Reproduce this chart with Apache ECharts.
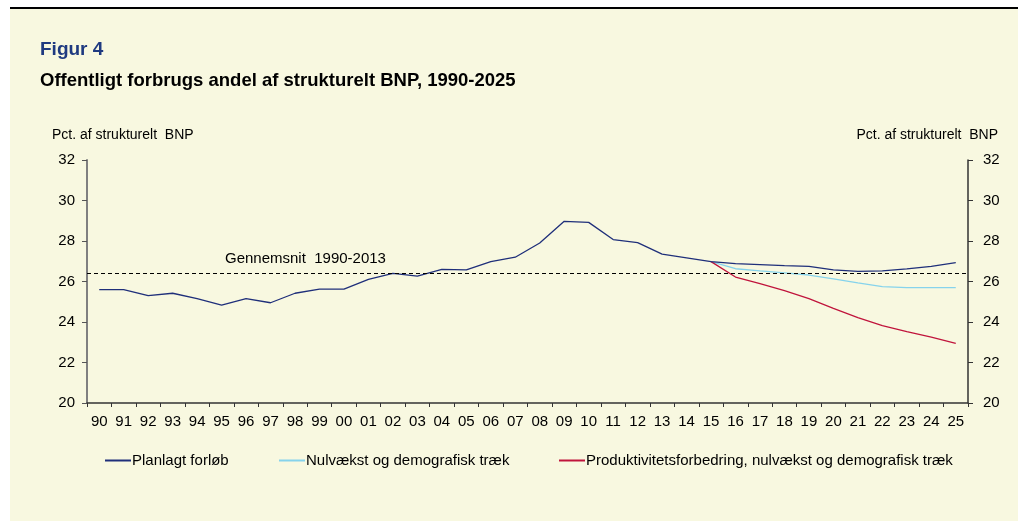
<!DOCTYPE html>
<html>
<head>
<meta charset="utf-8">
<script src="https://cdn.jsdelivr.net/npm/echarts@6/dist/echarts.min.js"></script>
<style>
  html, body { margin: 0; padding: 0; background: #fff; }
  #main { width: 1018px; height: 521px; }
</style>
</head>
<body>
<div id="main"></div>
<script>
// kategorier (år)
var years = ['90','91','92','93','94','95','96','97','98','99','00','01','02','03','04','05','06','07',
             '08','09','10','11','12','13','14','15','16','17','18','19','20','21','22','23','24','25'];

// Planlagt forløb
var planlagt = [25.6, 25.6, 25.3, 25.42, 25.15, 24.83, 25.15, 24.95, 25.42, 25.62, 25.62, 26.1,
                26.4, 26.27, 26.6, 26.57, 26.98, 27.2, 27.9, 28.97, 28.92, 28.07, 27.92, 27.35,
                27.17, 26.98, 26.88, 26.83, 26.78, 26.75, 26.57, 26.5, 26.52, 26.62, 26.75, 26.93];

// Nulvækst og demografisk træk (fra 2015)
var nulvaekst = [null, null, null, null, null, null, null, null, null, null, null, null,
                 null, null, null, null, null, null, null, null, null, null, null, null,
                 null, 26.98, 26.63, 26.52, 26.43, 26.32, 26.13, 25.93, 25.75, 25.7, 25.7, 25.7];

// Produktivitetsforbedring, nulvækst og demografisk træk (fra 2015)
var produktivitet = [null, null, null, null, null, null, null, null, null, null, null, null,
                     null, null, null, null, null, null, null, null, null, null, null, null,
                     null, 26.98, 26.22, 25.9, 25.55, 25.15, 24.67, 24.22, 23.82, 23.52, 23.25, 22.95];

// gennemsnit 1990-2013
var gennemsnit = 26.4;

var font = 'Liberation Sans, Arial, sans-serif';
var chart = echarts.init(document.getElementById('main'));

function legendItem(name, left) {
    return {
        data: [name],
        left: left,
        top: 448,
        icon: 'rect',
        itemWidth: 26,
        itemHeight: 2,
        itemGap: 2,
        selectedMode: false,
        textStyle: { fontFamily: font, fontSize: 15, color: '#000', padding: [0, 0, 0, -4] }
    };
}

var option = {
    backgroundColor: '#ffffff',
    animation: false,
    textStyle: { fontFamily: font },
    title: [
        {
            text: 'Figur 4',
            left: 35, top: 35,
            textStyle: { fontFamily: font, fontSize: 19, fontWeight: 'bold', color: '#1f3a80' }
        },
        {
            text: 'Offentligt forbrugs andel af strukturelt BNP, 1990-2025',
            left: 35, top: 66,
            textStyle: { fontFamily: font, fontSize: 18.5, fontWeight: 'bold', color: '#000' }
        }
    ],
    graphic: [
        {
            type: 'rect', z: -10, silent: true,
            shape: { x: 10, y: 9, width: 1008, height: 512 },
            style: { fill: '#f8f8e0' }
        },
        {
            type: 'line', silent: true,
            shape: { x1: 10, y1: 8, x2: 1018, y2: 8 },
            style: { stroke: '#000', lineWidth: 2 }
        },
        {
            type: 'text', left: 52, top: 128,
            style: { text: 'Pct. af strukturelt  BNP', fontFamily: font, fontSize: 14, fill: '#000' }
        },
        {
            type: 'text', right: 20, top: 128,
            style: { text: 'Pct. af strukturelt  BNP', fontFamily: font, fontSize: 14, fill: '#000' }
        }
    ],
    legend: [
        legendItem('Planlagt forløb', 100),
        legendItem('Nulvækst og demografisk træk', 274),
        legendItem('Produktivitetsforbedring, nulvækst og demografisk træk', 554)
    ],
    grid: { left: 87, right: 50, top: 160, bottom: 118 },
    xAxis: {
        type: 'category',
        data: years,
        boundaryGap: true,
        axisLine: { lineStyle: { color: '#333', width: 1.5 } },
        axisTick: { show: true, length: 4, lineStyle: { color: '#333' } },
        axisLabel: { fontFamily: font, fontSize: 15, color: '#000', margin: 11, interval: 0 },
        splitLine: { show: false }
    },
    yAxis: [
        {
            type: 'value', position: 'left',
            min: 20, max: 32, interval: 2,
            axisLine: { show: true, lineStyle: { color: '#808080', width: 2 } },
            axisTick: { show: true, length: 5, lineStyle: { color: '#555' } },
            axisLabel: { fontFamily: font, fontSize: 15, color: '#000', margin: 12 },
            splitLine: { show: false }
        },
        {
            type: 'value', position: 'right',
            min: 20, max: 32, interval: 2,
            axisLine: { show: true, lineStyle: { color: '#333', width: 1.5 } },
            axisTick: { show: true, length: 5, lineStyle: { color: '#333' } },
            axisLabel: { fontFamily: font, fontSize: 15, color: '#000', margin: 15 },
            splitLine: { show: false }
        }
    ],
    series: [
        {
            name: 'Nulvækst og demografisk træk',
            type: 'line',
            data: nulvaekst,
            symbol: 'none',
            color: '#86d3ec',
            lineStyle: { width: 1.3, color: '#86d3ec' }
        },
        {
            name: 'Produktivitetsforbedring, nulvækst og demografisk træk',
            type: 'line',
            data: produktivitet,
            symbol: 'none',
            color: '#c0143c',
            lineStyle: { width: 1.3, color: '#c0143c' }
        },
        {
            name: 'Planlagt forløb',
            type: 'line',
            data: planlagt,
            symbol: 'none',
            color: '#1f2f7a',
            lineStyle: { width: 1.3, color: '#1f2f7a' },
            markLine: {
                silent: true,
                symbol: 'none',
                lineStyle: { type: [4, 3], color: '#000', width: 1 },
                label: {
                    show: true,
                    position: 'insideStartTop',
                    distance: [138, 7],
                    formatter: 'Gennemsnit  1990-2013',
                    fontFamily: font, fontSize: 15, color: '#000'
                },
                data: [{ yAxis: gennemsnit }]
            }
        }
    ]
};

chart.setOption(option);
</script>
</body>
</html>
